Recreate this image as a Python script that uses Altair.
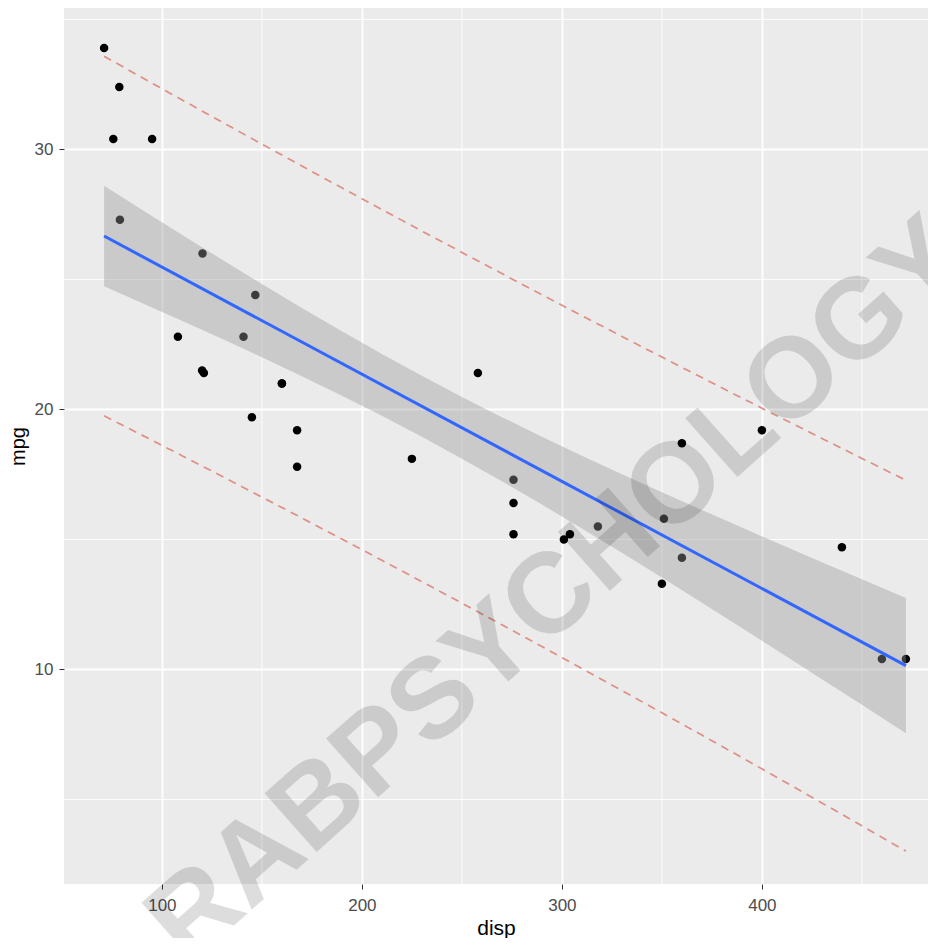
import altair as alt
import pandas as pd

# mtcars: displacement and miles per gallon
disp = [160, 160, 108, 258, 360, 225, 360, 146.7, 140.8, 167.6, 167.6, 275.8,
        275.8, 275.8, 472, 460, 440, 78.7, 75.7, 71.1, 120.1, 318, 304, 350,
        400, 79, 120.3, 95.1, 351, 145, 301, 121]
mpg = [21.0, 21.0, 22.8, 21.4, 18.7, 18.1, 14.3, 24.4, 22.8, 19.2, 17.8, 16.4,
       17.3, 15.2, 10.4, 10.4, 14.7, 32.4, 30.4, 33.9, 21.5, 15.5, 15.2, 13.3,
       19.2, 27.3, 26.0, 30.4, 15.8, 19.7, 15.0, 21.4]

# linear fit bands (95% confidence band and prediction interval)
band_x = [71.1, 90, 110, 130, 150, 170, 190, 210, 230, 250, 270, 290, 310,
          330, 350, 370, 390, 410, 430, 450, 472]
ci_lo = [24.737, 24.099, 23.415, 22.720, 22.010, 21.282, 20.532, 19.754,
         18.947, 18.108, 17.239, 16.343, 15.423, 14.486, 13.533, 12.569,
         11.596, 10.615, 9.629, 8.639, 7.545]
ci_hi = [28.602, 27.682, 26.718, 25.764, 24.825, 23.904, 23.006, 22.135,
         21.294, 20.484, 19.705, 18.953, 18.223, 17.512, 16.816, 16.132,
         15.456, 14.788, 14.126, 13.467, 12.748]
pi_lo = [19.754, 19.013, 18.224, 17.430, 16.631, 15.826, 15.015, 14.199,
         13.378, 12.551, 11.719, 10.881, 10.038, 9.189, 8.335, 7.476, 6.612,
         5.742, 4.868, 3.988, 3.015]
pi_hi = [33.585, 32.767, 31.908, 31.054, 30.205, 29.361, 28.523, 27.690,
         26.863, 26.041, 25.225, 24.414, 23.609, 22.809, 22.014, 21.225,
         20.440, 19.661, 18.887, 18.118, 17.277]

x_major = [100, 200, 300, 400]
x_minor = [150, 250, 350, 450]
y_major = [10, 20, 30]
y_minor = [5, 15, 25, 35]

watermark_text = ["RABPSYCHOLOGY"]
watermark_disp = [298]
watermark_mpg = [13.0]

FONT = "Liberation Sans"

pts = pd.DataFrame({"disp": disp, "mpg": mpg})
band = pd.DataFrame({"disp": band_x, "ci_lo": ci_lo, "ci_hi": ci_hi,
                     "pi_lo": pi_lo, "pi_hi": pi_hi})
xminor_df = pd.DataFrame({"disp": x_minor})
yminor_df = pd.DataFrame({"mpg": y_minor})
wm = pd.DataFrame({"disp": watermark_disp, "mpg": watermark_mpg,
                   "label": watermark_text})

x_scale = alt.Scale(domain=[51.05, 483.05], nice=False, zero=False)
y_scale = alt.Scale(domain=[1.75, 35.44], nice=False, zero=False)

x_axis = alt.Axis(values=x_major, title="disp", grid=True, gridColor="white",
                  gridWidth=1.8, domain=False, tickColor="#333333",
                  tickSize=5, tickWidth=1, labelColor="#4d4d4d",
                  labelFontSize=17, labelFont=FONT, labelPadding=8,
                  titleFont=FONT, titleFontSize=21, titleColor="black",
                  titleFontWeight="normal", titlePadding=4)
y_axis = alt.Axis(values=y_major, title="mpg", grid=True, gridColor="white",
                  gridWidth=1.8, domain=False, tickColor="#333333",
                  tickSize=5, tickWidth=1, labelColor="#4d4d4d",
                  labelFontSize=17, labelFont=FONT, labelPadding=6,
                  titleFont=FONT, titleFontSize=20, titleColor="black",
                  titleFontWeight="normal", titlePadding=6)

X = lambda f: alt.X(f, type="quantitative", scale=x_scale, axis=x_axis)
Y = lambda f: alt.Y(f, type="quantitative", scale=y_scale, axis=y_axis)

minor_v = alt.Chart(xminor_df).mark_rule(color="white", strokeWidth=0.9).encode(x=X("disp"))
minor_h = alt.Chart(yminor_df).mark_rule(color="white", strokeWidth=0.9).encode(y=Y("mpg"))

points = alt.Chart(pts).mark_circle(color="black", size=72, opacity=1).encode(
    x=X("disp"), y=Y("mpg"))

ci = alt.Chart(band).mark_area(color="#999999", opacity=0.4).encode(
    x=X("disp"), y=Y("ci_lo"), y2="ci_hi")

fit = alt.Chart(pts).transform_regression("disp", "mpg").mark_line(
    color="#3366FF", strokeWidth=3).encode(x=X("disp"), y=Y("mpg"))

pi_lower = alt.Chart(band).mark_line(color="#de8f85", strokeWidth=1.7,
                                     strokeDash=[8, 6]).encode(
    x=X("disp"), y=Y("pi_lo"))
pi_upper = alt.Chart(band).mark_line(color="#de8f85", strokeWidth=1.7,
                                     strokeDash=[8, 6]).encode(
    x=X("disp"), y=Y("pi_hi"))

watermark = alt.Chart(wm).mark_text(
    angle=318.3, fontSize=114, fontWeight="bold", font=FONT, color="black",
    opacity=0.13, align="center", baseline="middle").encode(
    x=X("disp"), y=Y("mpg"), text="label:N")

chart = alt.layer(minor_v, minor_h, points, ci, fit, pi_lower, pi_upper,
                  watermark).properties(
    width=864, height=876,
    autosize=alt.AutoSizeParams(type="none"),
    padding={"left": 56, "top": 0, "right": 0, "bottom": 54},
).configure_view(fill="#ebebeb", strokeWidth=0)

chart.save("out.html", embed_options={"renderer": "svg", "actions": False})
